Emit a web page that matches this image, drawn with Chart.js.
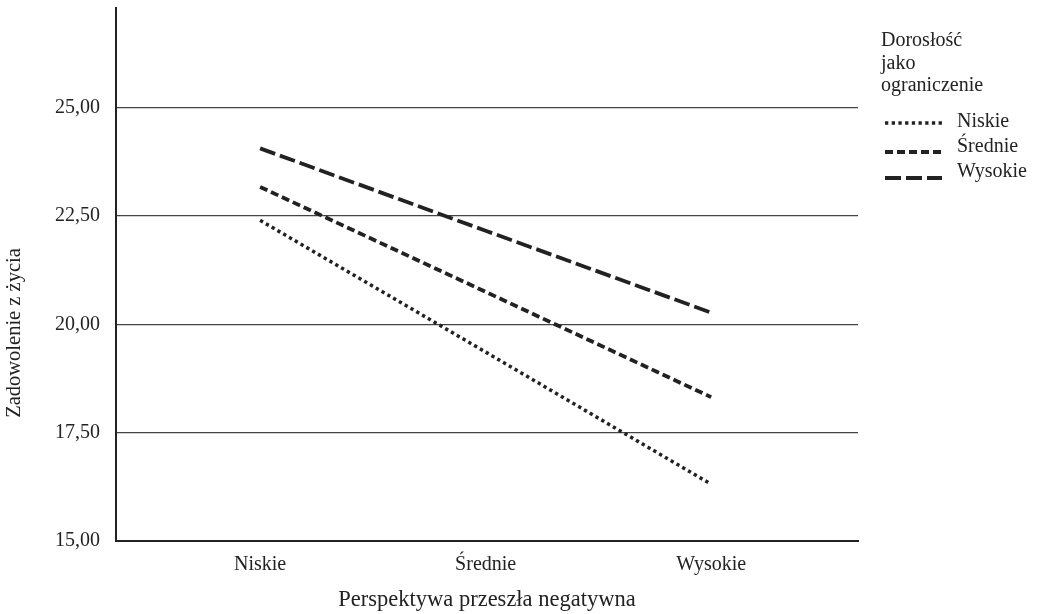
<!DOCTYPE html>
<html>
<head>
<meta charset="utf-8">
<script src="https://cdn.jsdelivr.net/npm/chart.js@4/dist/chart.umd.min.js"></script>
<style>
  html, body { margin: 0; padding: 0; background: #fff; }
  #wrap { width: 1040px; height: 614px; position: relative; }
</style>
</head>
<body>
<div id="wrap"><canvas id="graf"></canvas></div>
<script>
// kategorie na osi X
const xLabels = ["Niskie", "Średnie", "Wysokie"];
const yTicks = [15, 17.5, 20, 22.5, 25];

// wartości
const niskie = [22.40, 19.36, 16.31];
const srednie = [23.17, 20.75, 18.32];
const wysokie = [24.06, 22.16, 20.27];

const seriesNames = ["Niskie", "Średnie", "Wysokie"];
const legendTitle = ["Dorosłość", "jako", "ograniczenie"];
const yTitle = "Zadowolenie z życia";

const FONT = "'Liberation Serif', 'Times New Roman', serif";
const INK = "#222";

function pts(arr) { return arr.map((v, i) => ({ x: i, y: v })); }

// legenda po prawej + tytuł osi Y
const legendPlugin = {
  id: "legendRight",
  afterDraw(chart) {
    const ctx = chart.ctx;
    ctx.save();
    ctx.fillStyle = INK;
    ctx.textBaseline = "middle";

    // tytuł osi Y (obrócony)
    ctx.save();
    ctx.font = "20.5px " + FONT;
    ctx.textAlign = "center";
    ctx.translate(15, 333);
    ctx.rotate(-Math.PI / 2);
    ctx.fillText(yTitle, 0, 0);
    ctx.restore();

    ctx.font = "20px " + FONT;
    ctx.textAlign = "left";
    legendTitle.forEach((t, i) => ctx.fillText(t, 881, 41 + i * 22.5));
    const rowY = [123, 152, 178];
    const textY = [122, 147, 172];
    chart.data.datasets.forEach((ds, i) => {
      ctx.beginPath();
      ctx.setLineDash(ds.borderDash);
      ctx.lineWidth = ds.borderWidth;
      ctx.strokeStyle = ds.borderColor;
      ctx.moveTo(885, rowY[i]);
      ctx.lineTo(942, rowY[i]);
      ctx.stroke();
      ctx.setLineDash([]);
      ctx.fillText(ds.label, 957, textY[i]);
    });
    ctx.restore();
  }
};

new Chart("graf", {
  type: "line",
  data: {
    datasets: [
      { label: seriesNames[0], data: pts(niskie), borderColor: INK, borderWidth: 3.5, borderDash: [3.3, 3.4] },
      { label: seriesNames[1], data: pts(srednie), borderColor: INK, borderWidth: 3.8, borderDash: [8, 4] },
      { label: seriesNames[2], data: pts(wysokie), borderColor: INK, borderWidth: 3.8, borderDash: [16, 5] }
    ]
  },
  options: {
    responsive: true,
    maintainAspectRatio: false,
    animation: false,
    events: [],
    elements: { point: { radius: 0 }, line: { tension: 0, borderCapStyle: "butt" } },
    layout: { padding: { left: 0, right: 182, top: 8, bottom: 0 } },
    plugins: { legend: { display: false }, tooltip: { enabled: false } },
    scales: {
      x: {
        type: "linear",
        min: -0.639,
        max: 2.651,
        afterBuildTicks: s => { s.ticks = xLabels.map((_, i) => ({ value: i })); },
        afterFit: s => { s.height = 73; s.paddingLeft = 0; s.paddingRight = 0; },
        grid: { display: false, drawTicks: false },
        border: { display: true, color: INK, width: 2 },
        ticks: {
          padding: 12,
          color: INK,
          font: { family: FONT, size: 20 },
          callback: v => xLabels[v]
        },
        title: {
          display: true,
          text: "Perspektywa przeszła negatywna",
          color: INK,
          font: { family: FONT, size: 22.5 },
          padding: { top: 0, bottom: 0 }
        }
      },
      y: {
        min: 15,
        max: 27.3,
        afterBuildTicks: s => { s.ticks = yTicks.map(v => ({ value: v })); },
        afterFit: s => { s.width = 116; s.paddingTop = 0; s.paddingBottom = 0; },
        grid: { color: "#444", lineWidth: 1.3, drawTicks: false },
        border: { display: true, color: INK, width: 2 },
        ticks: {
          padding: 16,
          color: INK,
          font: { family: FONT, size: 20 },
          callback: v => v.toFixed(2).replace(".", ",")
        },
        title: { display: false }
      }
    }
  },
  plugins: [legendPlugin]
});
</script>
</body>
</html>
